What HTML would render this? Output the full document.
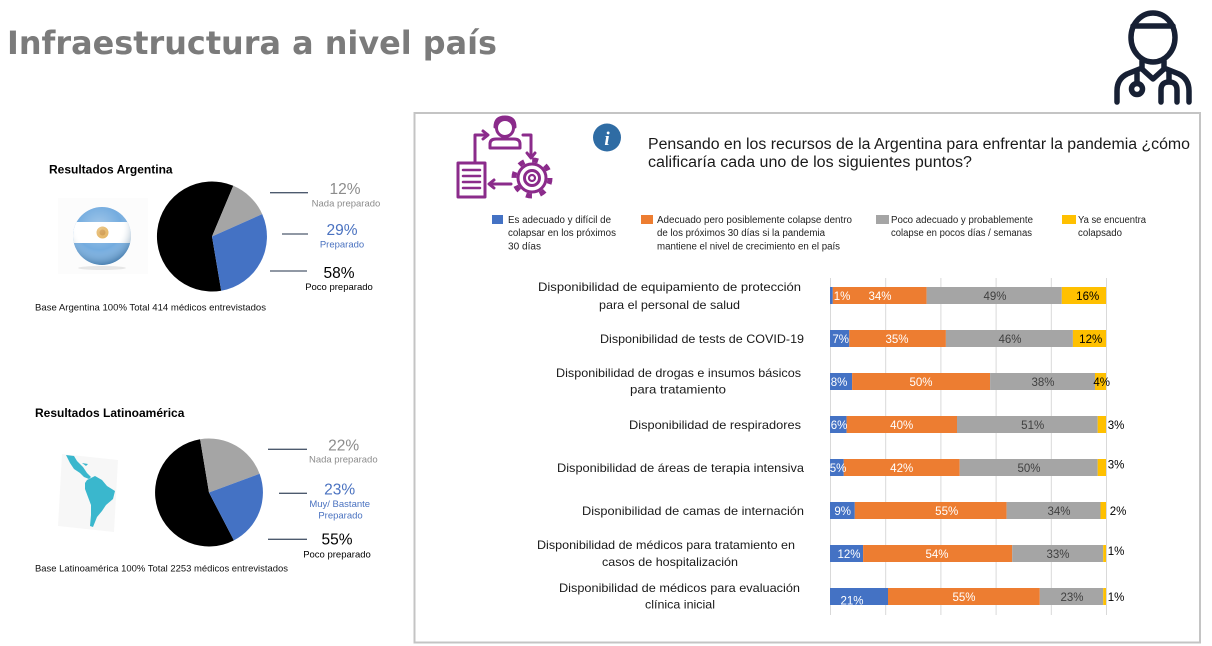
<!DOCTYPE html>
<html><head><meta charset="utf-8">
<style>
html,body{margin:0;padding:0;background:#fff;}
svg{display:block;}
text{font-family:"Liberation Sans",Arial,sans-serif;}
</style></head>
<body>
<svg width="1212" height="646" viewBox="0 0 1212 646" xmlns="http://www.w3.org/2000/svg">
<defs>
  <clipPath id="flagclip"><circle cx="102" cy="236" r="29"/></clipPath>
  <radialGradient id="shade" cx="0.45" cy="0.35" r="0.65">
    <stop offset="0" stop-color="#fff" stop-opacity="0.35"/>
    <stop offset="0.6" stop-color="#fff" stop-opacity="0"/>
    <stop offset="1" stop-color="#1d4f7a" stop-opacity="0.45"/>
  </radialGradient>
</defs>

<!-- Title -->
<text x="7" y="54" font-weight="bold" font-size="32" fill="#7b7b7b" textLength="490" lengthAdjust="spacingAndGlyphs" style="font-family:'DejaVu Sans',Verdana,sans-serif">Infraestructura a nivel país</text>

<!-- Doctor icon -->
<g fill="none" stroke="#172034" stroke-width="5.5" stroke-linecap="round" stroke-linejoin="round">
  <ellipse cx="1153" cy="37.5" rx="22" ry="24.5"/>
  <line x1="1133" y1="26" x2="1173" y2="26"/>
  <path d="M1142,61 L1142,68 L1127,74 Q1117,79 1117,91 L1117,102"/>
  <path d="M1164,61 L1164,68 L1179,74 Q1189,79 1189,91 L1189,102"/>
  <path d="M1142,69 L1153,79 L1164,69"/>
  <path d="M1137,73 L1137,83"/>
  <circle cx="1137" cy="89" r="5.5"/>
  <path d="M1169,72 L1169,81"/>
  <path d="M1161,102 L1161,90 Q1161,82 1169,82 Q1177,82 1177,90 L1177,102"/>
</g>

<!-- Argentina section -->
<text x="49" y="173.5" font-size="12" font-weight="bold" fill="#000">Resultados Argentina</text>
<rect x="58" y="198" width="90" height="76" fill="#fcfcfc"/>
<g clip-path="url(#flagclip)">
  <rect x="70" y="200" width="64" height="72" fill="#74acdf"/>
  <rect x="70" y="222" width="64" height="21" fill="#ffffff"/>
  <circle cx="102.5" cy="232.5" r="6" fill="#e0a94a"/>
  <circle cx="102.5" cy="232.5" r="3" fill="#c7862a"/>
  <circle cx="102" cy="236" r="29" fill="url(#shade)"/>
</g>
<ellipse cx="102" cy="268" rx="24" ry="2" fill="#e6e6e6"/>

<!-- Argentina pie -->
<path d="M212,236.5 L221.2,290.7 A55,55 0 1 1 233.3,185.8 Z" fill="#000"/>
<path d="M212,236.5 L233.3,185.8 A55,55 0 0 1 262.2,214.1 Z" fill="#a5a5a5"/>
<path d="M212,236.5 L262.2,214.1 A55,55 0 0 1 221.2,290.7 Z" fill="#4472c4"/>

<g stroke="#4d5a6e" stroke-width="1.3">
  <line x1="270" y1="192.7" x2="308" y2="192.7"/>
  <line x1="282" y1="234" x2="308" y2="234"/>
  <line x1="270" y1="271" x2="307" y2="271"/>
</g>
<g text-anchor="middle">
  <text x="345" y="194" font-size="15.5" fill="#8c8c8c">12%</text>
  <text x="346" y="206.5" font-size="9.5" fill="#8c8c8c">Nada preparado</text>
  <text x="342" y="235" font-size="15.5" fill="#4a72c0">29%</text>
  <text x="342" y="247.3" font-size="9.5" fill="#4a72c0">Preparado</text>
  <text x="339" y="278" font-size="15.5" fill="#000">58%</text>
  <text x="339" y="290" font-size="9.5" fill="#000">Poco preparado</text>
</g>
<text x="35" y="310.5" font-size="9.5" fill="#111" textLength="231" lengthAdjust="spacingAndGlyphs">Base  Argentina 100% Total 414  médicos entrevistados</text>

<!-- Latinoamérica section -->
<text x="35" y="417" font-size="12" font-weight="bold" fill="#000">Resultados Latinoamérica</text>
<polygon points="62,454 118,460 114,532 58,526" fill="#f7f7f7"/>
<g fill="#3ab7cd">
  <path d="M66,455 L74,456 L77,461 L83,467 L87,473 L91,477 L89,479 L84,477 L80,473 L74,469 L70,463 Z"/>
  <path d="M87,480 L95,476 L102,480 L107,486 L115,491 L113,499 L106,505 L102,511 L97,517 L93,527 L90,526 L91,515 L91,505 L88,497 L85,489 L85,483 Z"/>
  <path d="M82,463 L88,464 L86,466 Z"/>
</g>

<!-- LatAm pie -->
<path d="M209,492.5 L233.9,540.4 A54,54 0 1 1 200.1,439.2 Z" fill="#000"/>
<path d="M209,492.5 L200.1,439.2 A54,54 0 0 1 259.6,473.8 Z" fill="#a5a5a5"/>
<path d="M209,492.5 L259.6,473.8 A54,54 0 0 1 233.9,540.4 Z" fill="#4472c4"/>

<g stroke="#4d5a6e" stroke-width="1.3">
  <line x1="268" y1="449.3" x2="307" y2="449.3"/>
  <line x1="279" y1="493.3" x2="307" y2="493.3"/>
  <line x1="268" y1="539.3" x2="307" y2="539.3"/>
</g>
<g text-anchor="middle">
  <text x="343.7" y="450.5" font-size="15.5" fill="#8c8c8c">22%</text>
  <text x="343.3" y="462.5" font-size="9.5" fill="#8c8c8c">Nada preparado</text>
  <text x="339.7" y="494.5" font-size="15.5" fill="#4a72c0">23%</text>
  <text x="339.7" y="507" font-size="9.5" fill="#4a72c0">Muy/ Bastante</text>
  <text x="340.5" y="518.5" font-size="9.5" fill="#4a72c0">Preparado</text>
  <text x="337" y="544.5" font-size="15.5" fill="#000">55%</text>
  <text x="337" y="557.5" font-size="9.5" fill="#000">Poco preparado</text>
</g>
<text x="35" y="571.5" font-size="9.5" fill="#111" textLength="253" lengthAdjust="spacingAndGlyphs">Base  Latinoamérica 100% Total 2253 médicos entrevistados</text>

<!-- Right box -->
<rect x="414.5" y="113" width="785.5" height="529.5" fill="none" stroke="#c4c4c4" stroke-width="2"/>

<!-- Purple icon -->
<g fill="none" stroke="#8b2b8b" stroke-width="3" stroke-linecap="round" stroke-linejoin="round">
  <circle cx="505" cy="128" r="8.5"/>
  <path d="M495,127 Q495,117 505,117 Q515,117 515,127"/>
  <path d="M490,148 L490,144 Q490,139 496,139 L514,139 Q520,139 520,144 L520,148 Z"/>
  <path d="M475,162 L475,135 L487,135"/>
  <path d="M483,131 L488,135 L483,139"/>
  <path d="M523,135 L531,135 L531,157"/>
  <path d="M527,153 L531,158 L535,153"/>
  <rect x="458" y="163" width="27" height="34"/>
  <path d="M463,170 L480,170 M463,176 L480,176 M463,182 L480,182 M463,188 L480,188" stroke-width="2.5"/>
  <path d="M511,184 L490,184"/>
  <path d="M494,180 L489,184 L494,188"/>
  <circle cx="532" cy="178" r="14"/>
  <circle cx="532" cy="178" r="7.5"/>
  <circle cx="532" cy="178" r="3" stroke-width="2.2"/>
</g>
<circle cx="532" cy="178" r="18" fill="none" stroke="#8b2b8b" stroke-width="5" stroke-dasharray="6 8.14"/>

<!-- Info icon -->
<circle cx="607" cy="137.5" r="14" fill="#2f6ca4"/>
<text x="607" y="145" text-anchor="middle" font-style="italic" font-weight="bold" font-size="19" fill="#fff" style="font-family:'Liberation Serif',serif">i</text>

<!-- Question -->
<text x="648" y="149" font-size="15.5" fill="#1a1a1a" textLength="542" lengthAdjust="spacingAndGlyphs">Pensando en los recursos de la Argentina para enfrentar la pandemia ¿cómo</text>
<text x="648" y="167" font-size="15.5" fill="#1a1a1a" textLength="324" lengthAdjust="spacingAndGlyphs">calificaría cada uno de los siguientes puntos?</text>

<!-- Legend -->
<rect x="492" y="215" width="11" height="9" fill="#4472c4"/>
<rect x="641" y="215" width="12" height="9" fill="#ed7d31"/>
<rect x="876" y="215" width="13" height="9" fill="#a5a5a5"/>
<rect x="1062" y="215" width="14" height="9" fill="#ffc000"/>
<g font-size="10" fill="#222">
  <text x="508" y="223" textLength="103" lengthAdjust="spacingAndGlyphs">Es adecuado y difícil de</text>
  <text x="508" y="236" textLength="108" lengthAdjust="spacingAndGlyphs">colapsar en los próximos</text>
  <text x="508" y="249.5" textLength="33" lengthAdjust="spacingAndGlyphs">30 días</text>
  <text x="657" y="223" textLength="195" lengthAdjust="spacingAndGlyphs">Adecuado pero posiblemente colapse dentro</text>
  <text x="657" y="236" textLength="168" lengthAdjust="spacingAndGlyphs">de los próximos 30 días si la pandemia</text>
  <text x="657" y="249.5" textLength="183" lengthAdjust="spacingAndGlyphs">mantiene el nivel de crecimiento en el país</text>
  <text x="891" y="223" textLength="142" lengthAdjust="spacingAndGlyphs">Poco adecuado y probablemente</text>
  <text x="891" y="236" textLength="141" lengthAdjust="spacingAndGlyphs">colapse en pocos días / semanas</text>
  <text x="1078" y="223" textLength="68" lengthAdjust="spacingAndGlyphs">Ya se encuentra</text>
  <text x="1078" y="236" textLength="44" lengthAdjust="spacingAndGlyphs">colapsado</text>
</g>

<!-- Gridlines -->
<g stroke="#d9d9d9" stroke-width="1">
  <line x1="830.5" y1="278" x2="830.5" y2="615"/>
  <line x1="885.7" y1="278" x2="885.7" y2="615"/>
  <line x1="940.9" y1="278" x2="940.9" y2="615"/>
  <line x1="996.1" y1="278" x2="996.1" y2="615"/>
  <line x1="1051.3" y1="278" x2="1051.3" y2="615"/>
  <line x1="1106.5" y1="278" x2="1106.5" y2="615"/>
</g>

<!-- Row labels -->
<g font-size="12" fill="#1a1a1a">
  <text x="538" y="291" textLength="263" lengthAdjust="spacingAndGlyphs">Disponibilidad de equipamiento de protección</text>
  <text x="599" y="309" textLength="141" lengthAdjust="spacingAndGlyphs">para el personal de salud</text>
  <text x="600" y="343" textLength="204" lengthAdjust="spacingAndGlyphs">Disponibilidad de tests de COVID-19</text>
  <text x="556" y="377" textLength="245" lengthAdjust="spacingAndGlyphs">Disponibilidad de drogas e insumos básicos</text>
  <text x="630" y="393.5" textLength="96" lengthAdjust="spacingAndGlyphs">para tratamiento</text>
  <text x="629" y="429" textLength="172" lengthAdjust="spacingAndGlyphs">Disponibilidad de respiradores</text>
  <text x="557" y="472" textLength="247" lengthAdjust="spacingAndGlyphs">Disponibilidad de áreas de terapia intensiva</text>
  <text x="582" y="515" textLength="222" lengthAdjust="spacingAndGlyphs">Disponibilidad de camas de internación</text>
  <text x="537" y="549" textLength="258" lengthAdjust="spacingAndGlyphs">Disponibilidad de médicos para tratamiento en</text>
  <text x="602" y="566" textLength="136" lengthAdjust="spacingAndGlyphs">casos de hospitalización</text>
  <text x="559" y="592" textLength="241" lengthAdjust="spacingAndGlyphs">Disponibilidad de médicos para evaluación</text>
  <text x="645" y="608.5" textLength="70" lengthAdjust="spacingAndGlyphs">clínica inicial</text>
</g>

<!-- Bars -->
<g>
  <rect x="830" y="287" width="2.8" height="17" fill="#4472c4"/>
  <rect x="832.8" y="287" width="93.8" height="17" fill="#ed7d31"/>
  <rect x="926.6" y="287" width="135.2" height="17" fill="#a5a5a5"/>
  <rect x="1061.8" y="287" width="44.2" height="17" fill="#ffc000"/>

  <rect x="830" y="330" width="19.3" height="17" fill="#4472c4"/>
  <rect x="849.3" y="330" width="96.6" height="17" fill="#ed7d31"/>
  <rect x="945.9" y="330" width="127" height="17" fill="#a5a5a5"/>
  <rect x="1072.9" y="330" width="33.1" height="17" fill="#ffc000"/>

  <rect x="830" y="373" width="22.1" height="17" fill="#4472c4"/>
  <rect x="852.1" y="373" width="138" height="17" fill="#ed7d31"/>
  <rect x="990.1" y="373" width="104.9" height="17" fill="#a5a5a5"/>
  <rect x="1095" y="373" width="11" height="17" fill="#ffc000"/>

  <rect x="830" y="416" width="16.6" height="17" fill="#4472c4"/>
  <rect x="846.6" y="416" width="110.4" height="17" fill="#ed7d31"/>
  <rect x="957" y="416" width="140.7" height="17" fill="#a5a5a5"/>
  <rect x="1097.7" y="416" width="8.3" height="17" fill="#ffc000"/>

  <rect x="830" y="459" width="13.8" height="17" fill="#4472c4"/>
  <rect x="843.8" y="459" width="115.9" height="17" fill="#ed7d31"/>
  <rect x="959.7" y="459" width="138" height="17" fill="#a5a5a5"/>
  <rect x="1097.7" y="459" width="8.3" height="17" fill="#ffc000"/>

  <rect x="830" y="502" width="24.8" height="17" fill="#4472c4"/>
  <rect x="854.8" y="502" width="151.8" height="17" fill="#ed7d31"/>
  <rect x="1006.6" y="502" width="93.9" height="17" fill="#a5a5a5"/>
  <rect x="1100.5" y="502" width="5.5" height="17" fill="#ffc000"/>

  <rect x="830" y="545" width="33.1" height="17" fill="#4472c4"/>
  <rect x="863.1" y="545" width="149.1" height="17" fill="#ed7d31"/>
  <rect x="1012.2" y="545" width="91" height="17" fill="#a5a5a5"/>
  <rect x="1103.2" y="545" width="2.8" height="17" fill="#ffc000"/>

  <rect x="830" y="588" width="58" height="17" fill="#4472c4"/>
  <rect x="888" y="588" width="151.8" height="17" fill="#ed7d31"/>
  <rect x="1039.8" y="588" width="63.4" height="17" fill="#a5a5a5"/>
  <rect x="1103.2" y="588" width="2.8" height="17" fill="#ffc000"/>
</g>

<!-- Value labels -->
<g font-size="11.5" text-anchor="middle">
  <text x="842" y="300" fill="#fff">1%</text>
  <text x="880" y="300" fill="#fff">34%</text>
  <text x="995" y="300" fill="#404040">49%</text>
  <text x="1087.7" y="300" fill="#000">16%</text>

  <text x="840.7" y="343" fill="#fff">7%</text>
  <text x="897" y="343" fill="#fff">35%</text>
  <text x="1010" y="343" fill="#404040">46%</text>
  <text x="1090.7" y="343" fill="#000">12%</text>

  <text x="839" y="386" fill="#fff">8%</text>
  <text x="921" y="386" fill="#fff">50%</text>
  <text x="1043" y="386" fill="#404040">38%</text>
  <text x="1101.7" y="386" fill="#000">4%</text>

  <text x="839" y="429" fill="#fff">6%</text>
  <text x="901.7" y="429" fill="#fff">40%</text>
  <text x="1032.7" y="429" fill="#404040">51%</text>
  <text x="1116" y="429" fill="#000">3%</text>

  <text x="838" y="472" fill="#fff">5%</text>
  <text x="901.7" y="472" fill="#fff">42%</text>
  <text x="1029" y="472" fill="#404040">50%</text>
  <text x="1116" y="468.5" fill="#000">3%</text>

  <text x="842.7" y="515" fill="#fff">9%</text>
  <text x="946.7" y="515" fill="#fff">55%</text>
  <text x="1059" y="515" fill="#404040">34%</text>
  <text x="1118" y="515" fill="#000">2%</text>

  <text x="849" y="558" fill="#fff">12%</text>
  <text x="937" y="558" fill="#fff">54%</text>
  <text x="1058" y="558" fill="#404040">33%</text>
  <text x="1116" y="555" fill="#000">1%</text>

  <text x="852" y="604.5" fill="#fff">21%</text>
  <text x="964" y="601" fill="#fff">55%</text>
  <text x="1072" y="601" fill="#404040">23%</text>
  <text x="1116" y="601" fill="#000">1%</text>
</g>
</svg>
</body></html>
